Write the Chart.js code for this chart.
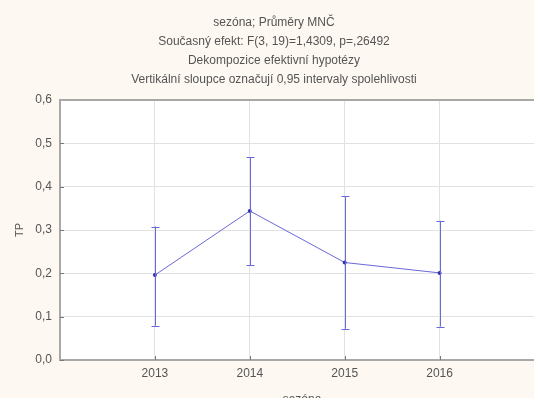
<!DOCTYPE html>
<html>
<head>
<meta charset="utf-8">
<script src="https://cdn.jsdelivr.net/npm/chart.js@4/dist/chart.umd.min.js"></script>
<style>
  html, body { margin: 0; padding: 0; overflow: hidden; background: #fdf8f1; }
  #wrap { width: 548px; height: 410px; position: relative; }
</style>
</head>
<body>
<div id="wrap"><canvas id="c"></canvas></div>
<script>
const titleLines = [
  "sezóna; Průměry MNČ",
  "Současný efekt: F(3, 19)=1,4309, p=,26492",
  "Dekompozice efektivní hypotézy",
  "Vertikální sloupce označují 0,95 intervaly spolehlivosti"
];
const seasons = [2013, 2014, 2015, 2016];
const means = [0.196, 0.344, 0.225, 0.201];
const lower = [0.079, 0.219, 0.072, 0.077];
const upper = [0.308, 0.468, 0.378, 0.321];
const yTicks = [0, 0.1, 0.2, 0.3, 0.4, 0.5, 0.6];
const xTitle = "sezóna";
const yTitle = "TP";

const FONT = "'Liberation Sans', Arial, sans-serif";
const LINE = "rgb(105,105,215)";
const POINT = "rgb(50,50,170)";

const decor = {
  id: 'decor',
  beforeDraw(chart) {
    const {ctx, chartArea: a} = chart;
    ctx.save();
    ctx.fillStyle = '#fdf8f1';
    ctx.fillRect(0, 0, chart.width, chart.height);
    ctx.fillStyle = '#ffffff';
    ctx.fillRect(a.left, a.top, a.right - a.left, a.bottom - a.top);
    ctx.restore();
  },
  afterDatasetsDraw(chart) {
    const {ctx, chartArea: a, scales: {x, y}} = chart;
    ctx.save();
    ctx.strokeStyle = LINE;
    ctx.lineWidth = 1;
    seasons.forEach((s, i) => {
      const px = Math.round(x.getPixelForValue(s)) + 0.5;
      const pl = y.getPixelForValue(lower[i]);
      const pu = y.getPixelForValue(upper[i]);
      ctx.beginPath();
      ctx.moveTo(px, pu); ctx.lineTo(px, pl);
      ctx.moveTo(px - 4, Math.round(pu) + 0.5); ctx.lineTo(px + 4, Math.round(pu) + 0.5);
      ctx.moveTo(px - 4, Math.round(pl) + 0.5); ctx.lineTo(px + 4, Math.round(pl) + 0.5);
      ctx.stroke();
    });
    ctx.strokeStyle = '#777';
    ctx.beginPath();
    seasons.forEach(s => {
      const px = Math.round(x.getPixelForValue(s)) + 0.5;
      ctx.moveTo(px, a.bottom); ctx.lineTo(px, a.bottom - 4);
    });
    yTicks.forEach(t => {
      const py = Math.round(y.getPixelForValue(t)) + 0.5;
      ctx.moveTo(a.left, py); ctx.lineTo(a.left + 4, py);
    });
    ctx.stroke();
    ctx.strokeStyle = '#a8a8a8';
    ctx.lineWidth = 2;
    ctx.beginPath();
    ctx.moveTo(a.left, a.top); ctx.lineTo(a.right, a.top);
    ctx.stroke();
    ctx.restore();
  }
};

new Chart(document.getElementById('c'), {
  type: 'line',
  data: {
    datasets: [{
      data: seasons.map((s, i) => ({x: s, y: means[i]})),
      borderColor: LINE,
      borderWidth: 1,
      pointRadius: 2,
      pointBackgroundColor: POINT,
      pointBorderColor: POINT,
      pointBorderWidth: 0,
      tension: 0,
      fill: false
    }]
  },
  options: {
    responsive: true,
    maintainAspectRatio: false,
    animation: false,
    layout: { padding: 0 },
    plugins: {
      legend: { display: false },
      tooltip: { enabled: false },
      title: {
        display: true,
        text: titleLines,
        color: '#555',
        align: 'center',
        font: { family: FONT, size: 12, weight: 'normal', lineHeight: '19px' },
        padding: { top: 13.5, bottom: 10.5 }
      }
    },
    scales: {
      x: {
        type: 'linear',
        min: 2012, max: 2017.1,
        afterBuildTicks(scale) { scale.ticks = seasons.map(v => ({value: v})); },
        afterFit(scale) { scale.height = 50; },
        ticks: { color: '#555', font: { family: FONT, size: 12 }, padding: 6, callback: v => String(v), maxRotation: 0 },
        grid: { color: '#e2e2e2', drawTicks: false },
        border: { color: '#a8a8a8', width: 2 },
        title: { display: true, text: xTitle, color: '#555', font: { family: FONT, size: 12 }, padding: { top: 0, bottom: 3 } }
      },
      y: {
        min: 0, max: 0.6,
        afterBuildTicks(scale) { scale.ticks = yTicks.map(v => ({value: v})); },
        afterFit(scale) { scale.width = 60; },
        ticks: { color: '#555', font: { family: FONT, size: 12 }, padding: 8, callback: v => v.toFixed(1).replace('.', ',') },
        grid: { color: '#e2e2e2', drawTicks: false },
        border: { color: '#a8a8a8', width: 2 },
        title: { display: true, text: yTitle, color: '#555', font: { family: FONT, size: 11 }, padding: { top: 13, bottom: 0 } }
      }
    }
  },
  plugins: [decor]
});
</script>
</body>
</html>
